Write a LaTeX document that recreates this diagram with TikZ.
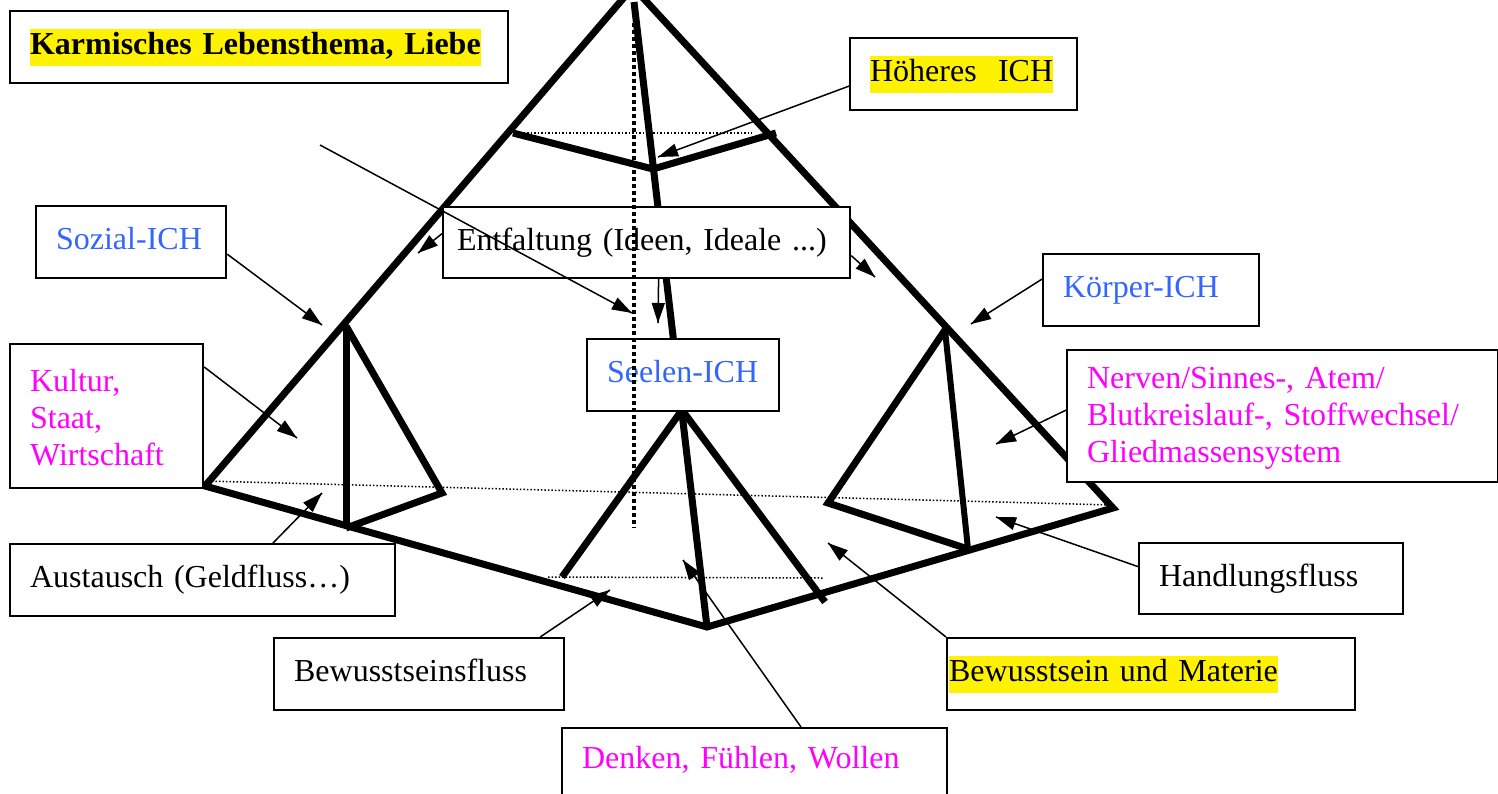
\documentclass[tikz,border=0pt]{standalone}
\usepackage{fontspec}
\setmainfont{Liberation Serif}
\usepackage{tikz}
\usetikzlibrary{arrows.meta}
\usetikzlibrary{decorations.markings}
\definecolor{ichblau}{HTML}{3366FF}
\definecolor{rosa}{HTML}{FF00FF}
\newcommand\gelb[1]{{\setlength\fboxsep{0pt}\colorbox{yellow}{\strut#1}}}
\tikzset{->/.style = {decoration={markings,
                                  mark=at position 1 with {\arrow{Triangle[length=20pt, width=13pt]}}},
                      postaction={decorate}}}
\tikzset{kante/.style = {line width = 7pt}}
\tikzset{hilfslinie/.style = {line width = 1.5pt, dotted}}
\tikzset{pfeil/.style = {line width = 1.5pt}}
\tikzset{kasten/.style = {draw, fill = white, line width = 2.2pt, anchor = north west,
                          inner xsep = 20pt, inner ysep = 0pt,
                          font = \fontsize{32pt}{37pt}\selectfont,
                          execute at begin node = {\raggedright\noindent\strut}}}

\begin{document}
\begin{tikzpicture}[x = 1pt, y = -1pt]
      \useasboundingbox (0, 0) rectangle (1498, 793);
      % Pyramide
      \draw [kante] (205, 486) -- (633, -13) -- (1113, 508) -- (707, 627) -- cycle;
      \draw [kante] (634, 2) -- (707, 627);
      \draw [kante] (513, 133) -- (653, 169) -- (776, 133);
      \draw [kante] (346, 326) -- (346, 528);
      \draw [kante] (346, 326) -- (442, 493) -- (346, 528);
      \draw [kante] (562, 577) -- (682, 410) -- (825, 602);
      \draw [kante] (968, 549) -- (828, 503) -- (945, 330);
      \draw [kante, line width = 6pt] (945, 330) -- (968, 549);
      \draw [hilfslinie] (513, 133) -- (752, 133);
      \draw [hilfslinie] (205, 481) -- (1112, 505);
      \draw [hilfslinie] (548, 577) -- (823, 578);
      % Kaesten
      \node [kasten, text width = 458, minimum height = 72,
             font = \fontsize{32pt}{37pt}\selectfont\bfseries] (titel) at (9, 10)
            {\gelb{Karmisches Lebensthema, Liebe}};
      \node [kasten, text width = 187, minimum height = 72] (hoeheres) at (849, 37) {\gelb{Höheres\ \ ICH}};
      \node [kasten, text width = 150, minimum height = 72, text = ichblau] (sozial) at (35, 205) {Sozial-ICH};
      \node [kasten, text width = 379, minimum height = 71, inner xsep = 14pt] (entfaltung) at (442, 206)
            {Entfaltung (Ideen, Ideale ...)};
      \node [kasten, text width = 176, minimum height = 72, text = ichblau] (koerper) at (1042, 253) {Körper-ICH};
      \node [kasten, text width = 152, minimum height = 72, text = ichblau] (seelen) at (586, 338) {Seelen-ICH};
      \node [kasten, text width = 153, minimum height = 144, text = rosa] (kultur) at (9, 343)
            {Kultur,\\Staat,\\Wirtschaft};
      \node [kasten, text width = 391, minimum height = 132, text = rosa] (nerven) at (1066, 349)
            {Nerven/Sinnes-, Atem/\\Blutkreislauf-, Stoffwechsel/\\Gliedmassensystem};
      \node [kasten, text width = 345, minimum height = 72] (austausch) at (9, 543) {Austausch (Geldfluss…)};
      \node [kasten, text width = 224, minimum height = 71] (handlung) at (1138, 542) {Handlungsfluss};
      \node [kasten, text width = 250, minimum height = 72] (bewusstseinsfluss) at (273, 637) {Bewusstseinsfluss};
      \node [kasten, text width = 404, minimum height = 72, inner xsep = 2pt] (materie) at (946, 637)
            {\gelb{Bewusstsein und Materie}};
      \node [kasten, text width = 345, inner ysep = 14.5pt, text depth = 45pt, text = rosa] (denken) at (561, 727)
            {Denken, Fühlen, Wollen};
      % Achse
      \draw [line width = 4pt, dash pattern = on 3.5pt off 3.5pt] (634, 23) -- (634, 528);
      % Pfeile
      \coordinate (frei) at (320, 145);
      \coordinate (hoeheresziel) at (658, 157);
      \coordinate (seelenziel) at (632, 313);
      \coordinate (linksziel) at (418, 253);
      \coordinate (rechtsziel) at (875, 277);
      \coordinate (untenziel) at (658, 323);
      \coordinate (sozialziel) at (322, 325);
      \coordinate (koerperziel) at (971, 324);
      \coordinate (kulturziel) at (297, 438);
      \coordinate (nervenziel) at (996, 444);
      \coordinate (austauschziel) at (322, 493);
      \coordinate (handlungziel) at (996, 517);
      \coordinate (flussziel) at (610, 590);
      \coordinate (denkenziel) at (683, 560);
      \coordinate (materieziel) at (828, 543);
      \draw [pfeil, ->] ([yshift = -12pt] hoeheres.west) -- (hoeheresziel);
      \draw [pfeil, ->] (frei) -- (seelenziel);
      \draw [pfeil, ->] ([yshift = 9pt] entfaltung.west) -- (linksziel);
      \draw [pfeil, ->] ([yshift = -13pt] entfaltung.east) -- (rechtsziel);
      \draw [pfeil, ->] ([xshift = 12pt] entfaltung.south) -- (untenziel);
      \draw [pfeil, ->] ([yshift = -12pt] sozial.east) -- (sozialziel);
      \draw [pfeil, ->] ([yshift = 11pt] koerper.west) -- (koerperziel);
      \draw [pfeil, ->] ([yshift = -24pt] kultur.north east) -- (kulturziel);
      \draw [pfeil, ->] ([yshift = 6pt] nerven.west) -- (nervenziel);
      \draw [pfeil, ->] ([xshift = 264pt] austausch.north west) -- (austauschziel);
      \draw [pfeil, ->] ([yshift = 12pt] handlung.west) -- (handlungziel);
      \draw [pfeil, ->] ([xshift = -25pt] bewusstseinsfluss.north east) -- (flussziel);
      \draw [pfeil, ->] ([xshift = 240pt] denken.north west) -- (denkenziel);
      \draw [pfeil, ->] (materie.north west) -- (materieziel);
    \end{tikzpicture}
\end{document}
